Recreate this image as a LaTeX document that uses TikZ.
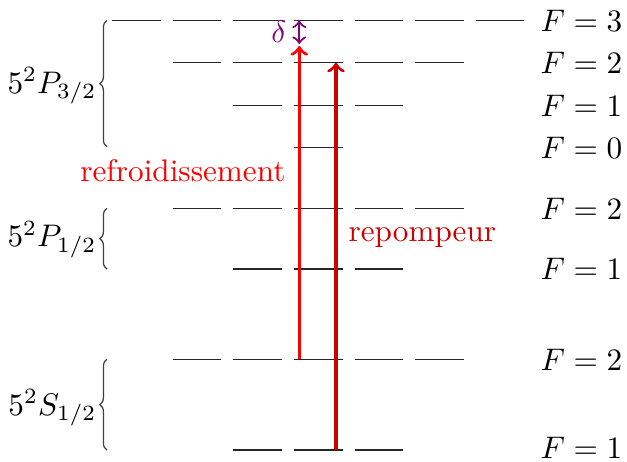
\documentclass[tikz,border=0pt]{standalone}
\usetikzlibrary{decorations.pathreplacing}
\newcommand\levrow[3]{\foreach \k in {#2,...,#3}{\draw[lvl] ({112.2+60.58*(\k-1)},#1) -- ++(48.6,0);}}
\begin{document}
\begin{tikzpicture}[x=0.3205pt,y=-0.3205pt,
  lvl/.style={draw=black!85, line width=0.5pt},
  brc/.style={decorate, decoration={brace, amplitude=2.3pt}, draw=black!75, line width=0.4pt},
  flab/.style={anchor=base west, inner sep=0pt},
  slab/.style={anchor=base east, inner sep=0pt},
  beam/.style={->, line width=1.05pt},
]
\useasboundingbox (0,0) rectangle (627,461);
% levels
\levrow{20.5}{1}{7}
\levrow{62.7}{2}{6}
\levrow{105.3}{3}{5}
\levrow{147.7}{4}{4}
\levrow{208.3}{2}{6}
\levrow{269}{3}{5}
\levrow{359.3}{2}{6}
\levrow{450}{3}{5}
% braces
\draw[brc] (107,146.7) -- (107,20.5);
\draw[brc] (107,269) -- (107,208.3);
\draw[brc] (107,450) -- (107,359.3);
% left labels
\node[slab] (p32) at (97,93) {$5^2P_{3/2}$};
\node[slab] (p12) at (97,246.5) {$5^2P_{1/2}$};
\node[slab] (s12) at (97,415) {$5^2S_{1/2}$};
% F labels
\node[flab] (f3) at (540,31.5) {$F=3$};
\node[flab] (f2a) at (540,73.5) {$F=2$};
\node[flab] (f1a) at (540,116) {$F=1$};
\node[flab] (f0) at (540,158.5) {$F=0$};
\node[flab] (f2b) at (540,219.3) {$F=2$};
\node[flab] (f1b) at (540,279.5) {$F=1$};
\node[flab] (f2c) at (540,370) {$F=2$};
\node[flab] (f1c) at (540,458.5) {$F=1$};
% arrows
\coordinate (cg) at (299.3,359.3);
\coordinate (ce) at (299.3,46);
\coordinate (rg) at (336,450);
\coordinate (re) at (336,62.7);
\coordinate (da) at (299.3,20.5);
\coordinate (db) at (299.3,44);
\draw[beam, red] (cg) -- (ce);
\draw[beam, red!80!black] (rg) -- (re);
\draw[<->, violet, line width=0.7pt] (da) -- (db);
% texts
\node[anchor=base east, inner sep=0pt, text=red] (cool) at (286,181.5) {refroidissement};
\node[anchor=base west, inner sep=0pt, text=red!80!black] (rep) at (348,241.7) {repompeur};
\node[anchor=base east, inner sep=0pt, text=violet] (dl) at (287,42) {$\delta$};
\end{tikzpicture}
\end{document}
